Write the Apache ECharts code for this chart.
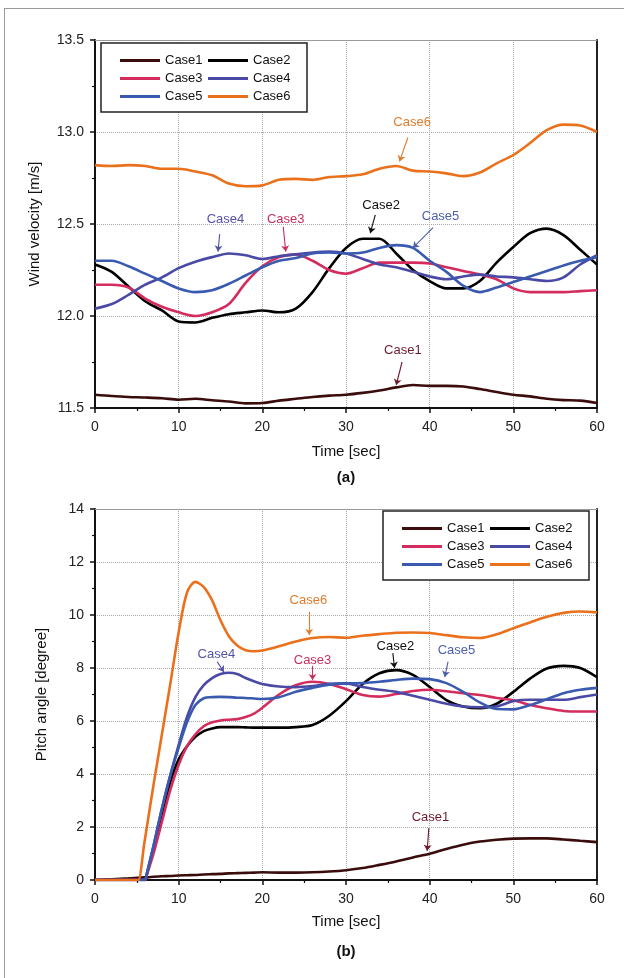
<!DOCTYPE html>
<html>
<head>
<meta charset="utf-8">
<script src="https://cdn.jsdelivr.net/npm/echarts/dist/echarts.min.js"></script>
<style>
  html, body { margin: 0; padding: 0; background: #ffffff; }
  #chart { width: 624px; height: 978px; }
</style>
</head>
<body>
<div id="chart"></div>
<script>
// ---- (a) wind velocity [m/s] ----
const windTime = [0, 2, 4, 6, 8, 10, 12, 14, 16, 18, 20, 22, 24, 26, 28, 30,
                  32, 34, 36, 38, 40, 42, 44, 46, 48, 50, 52, 54, 56, 58, 60];
const windCase1 = [11.572, 11.565, 11.560, 11.557, 11.553, 11.545, 11.550, 11.542, 11.535, 11.525, 11.527,
                   11.540, 11.550, 11.560, 11.567, 11.572, 11.582, 11.595, 11.612, 11.625, 11.620,
                   11.620, 11.617, 11.603, 11.587, 11.572, 11.563, 11.550, 11.543, 11.540, 11.527];
const windCase2 = [12.28, 12.24, 12.16, 12.08, 12.03, 11.97, 11.965, 11.99, 12.01, 12.02, 12.03,
                   12.02, 12.04, 12.13, 12.26, 12.37, 12.42, 12.42, 12.34, 12.25, 12.19,
                   12.15, 12.15, 12.19, 12.29, 12.375, 12.45, 12.475, 12.44, 12.36, 12.28];
const windCase3 = [12.17, 12.17, 12.155, 12.095, 12.05, 12.02, 12.00, 12.02, 12.065, 12.18, 12.27,
                   12.32, 12.335, 12.30, 12.25, 12.23, 12.26, 12.29, 12.29, 12.29, 12.285,
                   12.265, 12.245, 12.225, 12.20, 12.15, 12.13, 12.13, 12.13, 12.135, 12.14];
const windCase4 = [12.04, 12.065, 12.115, 12.17, 12.21, 12.26, 12.295, 12.32, 12.34, 12.33, 12.31,
                   12.325, 12.335, 12.345, 12.35, 12.34, 12.31, 12.28, 12.265, 12.24, 12.215,
                   12.20, 12.215, 12.225, 12.215, 12.21, 12.20, 12.19, 12.21, 12.28, 12.33];
const windCase5 = [12.30, 12.30, 12.27, 12.23, 12.19, 12.15, 12.13, 12.14, 12.175, 12.22, 12.265,
                   12.30, 12.315, 12.34, 12.345, 12.34, 12.345, 12.37, 12.385, 12.37, 12.30,
                   12.24, 12.165, 12.13, 12.155, 12.185, 12.215, 12.245, 12.275, 12.30, 12.32];
const windCase6 = [12.82, 12.815, 12.82, 12.815, 12.80, 12.80, 12.785, 12.765, 12.72, 12.705, 12.71,
                   12.74, 12.745, 12.74, 12.755, 12.76, 12.77, 12.80, 12.815, 12.79, 12.785,
                   12.775, 12.76, 12.78, 12.83, 12.875, 12.94, 13.01, 13.04, 13.035, 13.00];

// ---- (b) pitch angle [degree] ----
const pitchTime = [0, 2, 4, 5, 5.1, 5.2, 5.9, 6, 6.2, 7, 8, 9, 10, 11, 12, 13, 14, 15, 16, 17, 18, 19, 20,
                   22, 24, 26, 28, 30, 32, 34, 36, 38, 40, 42, 44, 46, 48, 50, 52, 54, 56, 58, 60];
const pitchCase1 = [0, 0.03, 0.06, 0.08, 0.08, 0.08, 0.10, 0.10, 0.10, 0.12, 0.14, 0.15, 0.17, 0.18, 0.19,
                    0.21, 0.22, 0.23, 0.25, 0.26, 0.27, 0.28, 0.29, 0.28, 0.28, 0.29, 0.32, 0.37, 0.45,
                    0.57, 0.70, 0.85, 0.99, 1.17, 1.33, 1.45, 1.52, 1.56, 1.57, 1.57, 1.53, 1.48, 1.43];
const pitchCase2 = [0, 0, 0, 0, 0, 0, 0, 0, 0.2, 1.2, 2.5, 3.7, 4.55, 5.05, 5.4, 5.62, 5.72, 5.77, 5.77,
                    5.77, 5.76, 5.75, 5.75, 5.75, 5.77, 5.85, 6.2, 6.75, 7.4, 7.8, 7.92, 7.74, 7.28,
                    6.79, 6.55, 6.48, 6.65, 7.1, 7.6, 7.98, 8.08, 8.0, 7.65];
const pitchCase3 = [0, 0, 0, 0, 0, 0, 0, 0, 0.2, 1.0, 2.2, 3.4, 4.35, 5.05, 5.5, 5.8, 5.95, 6.02, 6.05,
                    6.07, 6.15, 6.28, 6.5, 7.0, 7.35, 7.48, 7.4, 7.2, 6.98, 6.92, 7.02, 7.13, 7.18,
                    7.12, 7.05, 6.98, 6.87, 6.78, 6.6, 6.48, 6.38, 6.36, 6.36];
const pitchCase4 = [0, 0, 0, 0, 0, 0, 0, 0, 0.25, 1.3, 2.7, 3.95, 5.1, 6.15, 6.9, 7.35, 7.62, 7.77, 7.82,
                    7.77, 7.62, 7.5, 7.4, 7.3, 7.28, 7.32, 7.4, 7.42, 7.28, 7.18, 7.1, 6.95, 6.8,
                    6.65, 6.55, 6.52, 6.55, 6.75, 6.8, 6.8, 6.8, 6.9, 7.0];
const pitchCase5 = [0, 0, 0, 0, 0, 0, 0, 0, 0.25, 1.3, 2.7, 3.95, 5.0, 5.95, 6.6, 6.86, 6.9, 6.91, 6.9,
                    6.88, 6.87, 6.85, 6.83, 6.9, 7.1, 7.25, 7.37, 7.42, 7.43, 7.48, 7.55, 7.6, 7.58,
                    7.43, 7.1, 6.7, 6.45, 6.44, 6.6, 6.82, 7.05, 7.18, 7.25];
const pitchCase6 = [0, 0, 0, 0, 0, 0, 1.4, 1.6, 2.0, 3.6, 5.5, 7.4, 9.35, 10.85, 11.25, 11.05, 10.55, 9.8,
                    9.2, 8.85, 8.67, 8.63, 8.66, 8.82, 9.0, 9.13, 9.17, 9.14, 9.22, 9.28, 9.33, 9.34,
                    9.32, 9.24, 9.16, 9.13, 9.27, 9.5, 9.72, 9.93, 10.08, 10.13, 10.1];

const caseNames = ['Case1', 'Case2', 'Case3', 'Case4', 'Case5', 'Case6'];
const lineColors = ['#3a0c0c', '#000000', '#d42c5c', '#4a4aa6', '#3a5ab0', '#ea701c'];
const noteColors = ['#6e1a2c', '#111111', '#c8305e', '#5252a8', '#4c5eac', '#e07c2c'];

// Callout labels: text position, arrow tail, arrow head (data coordinates)
const windNotes = [
  { name: 'Case6', text: [37.9, 13.05], from: [37.4, 12.97], to: [36.4, 12.84] },
  { name: 'Case2', text: [34.2, 12.60], from: [33.5, 12.55], to: [32.9, 12.45] },
  { name: 'Case5', text: [41.3, 12.54], from: [40.4, 12.48], to: [38.0, 12.37] },
  { name: 'Case4', text: [15.6, 12.525], from: [14.9, 12.445], to: [14.7, 12.35] },
  { name: 'Case3', text: [22.8, 12.525], from: [22.5, 12.485], to: [22.8, 12.35] },
  { name: 'Case1', text: [36.8, 11.815], from: [36.7, 11.75], to: [36.0, 11.625] }
];
const pitchNotes = [
  { name: 'Case6', text: [25.5, 10.54], from: [25.6, 10.12], to: [25.6, 9.25] },
  { name: 'Case4', text: [14.5, 8.53], from: [14.6, 8.24], to: [15.4, 7.85] },
  { name: 'Case3', text: [26.0, 8.30], from: [26.0, 8.08], to: [26.0, 7.55] },
  { name: 'Case2', text: [35.9, 8.80], from: [35.6, 8.56], to: [35.8, 8.0] },
  { name: 'Case5', text: [43.2, 8.68], from: [42.2, 8.24], to: [41.8, 7.66] },
  { name: 'Case1', text: [40.1, 2.38], from: [39.9, 1.96], to: [39.7, 1.1] }
];

const windSeries = [windCase1, windCase2, windCase3, windCase4, windCase5, windCase6];
const pitchSeries = [pitchCase1, pitchCase2, pitchCase3, pitchCase4, pitchCase5, pitchCase6];

const FONT = 'Liberation Sans, Arial, sans-serif';

function buildSeries(times, values, notes, xIdx, yIdx) {
  return caseNames.map((name, k) => {
    const note = notes.find(n => n.name === name);
    const c = noteColors[k];
    return {
      name: name,
      type: 'line',
      xAxisIndex: xIdx,
      yAxisIndex: yIdx,
      data: times.map((t, i) => [t, values[k][i]]),
      showSymbol: false,
      smooth: 0.3,
      lineStyle: { color: lineColors[k], width: 2.6 },
      itemStyle: { color: lineColors[k] },
      z: 2 + k,
      silent: true,
      markPoint: note ? {
        silent: true,
        symbol: 'rect',
        symbolSize: 1,
        itemStyle: { color: 'rgba(0,0,0,0)' },
        label: {
          show: true, position: 'inside', formatter: name,
          color: c, fontFamily: FONT, fontSize: 13
        },
        data: [{ coord: note.text }]
      } : undefined,
      markLine: note ? {
        silent: true,
        symbol: ['none', 'arrow'],
        symbolSize: 6,
        lineStyle: { color: c, width: 1.1, type: 'solid' },
        label: { show: false },
        data: [[{ coord: note.from }, { coord: note.to }]]
      } : undefined
    };
  });
}

function valueXAxis(gridIndex) {
  return {
    type: 'value', gridIndex: gridIndex, min: 0, max: 60, interval: 10,
    name: 'Time [sec]', nameLocation: 'middle', nameGap: gridIndex === 0 ? 36 : 34,
    nameTextStyle: { fontFamily: FONT, fontSize: 15, color: '#111' },
    axisLine: { show: true, onZero: false, lineStyle: { color: '#111', width: 2 } },
    axisTick: { show: true, inside: false, length: 5, lineStyle: { color: '#111', width: 1.5 } },
    minorTick: { show: true, splitNumber: 2, length: 3, lineStyle: { color: '#111', width: 1.2 } },
    axisLabel: { margin: 12, fontFamily: FONT, fontSize: 14, color: '#222' },
    splitLine: { show: true, lineStyle: { color: '#a8a8a8', width: 1, type: 'dotted' } }
  };
}
function borderXAxis(gridIndex) {
  return {
    type: 'value', gridIndex: gridIndex, position: 'top', min: 0, max: 60,
    axisLine: { show: true, onZero: false, lineStyle: { color: '#9a9a9a', width: 1 } },
    axisTick: { show: false }, axisLabel: { show: false }, splitLine: { show: false }
  };
}
function borderYAxis(gridIndex, min, max) {
  return {
    type: 'value', gridIndex: gridIndex, position: 'right', min: min, max: max,
    axisLine: { show: true, onZero: false, lineStyle: { color: '#222', width: 2 } },
    axisTick: { show: false }, axisLabel: { show: false }, splitLine: { show: false }
  };
}

function legendFor(left, top) {
  return {
    left: left, top: top, width: 182,
    orient: 'horizontal',
    data: caseNames,
    icon: 'rect', itemWidth: 40, itemHeight: 3, itemGap: 3,
    padding: [10, 14, 8, 19],
    borderColor: '#222', borderWidth: 1.5,
    backgroundColor: '#ffffff',
    selectedMode: false,
    textStyle: { fontFamily: FONT, fontSize: 13, color: '#111', width: 40, lineHeight: 15 }
  };
}

const chart = echarts.init(document.getElementById('chart'), null, { renderer: 'canvas' });

chart.setOption({
  animation: false,
  backgroundColor: '#ffffff',
  grid: [
    { left: 95, width: 502, top: 40, height: 368 },
    { left: 95, width: 502, top: 509, height: 371 }
  ],
  xAxis: [valueXAxis(0), borderXAxis(0), valueXAxis(1), borderXAxis(1)],
  yAxis: [
    {
      type: 'value', gridIndex: 0, min: 11.5, max: 13.5, interval: 0.5,
      name: 'Wind velocity [m/s]', nameLocation: 'middle', nameGap: 53,
      nameTextStyle: { fontFamily: FONT, fontSize: 15, color: '#111' },
      axisLine: { show: true, onZero: false, lineStyle: { color: '#111', width: 2 } },
      axisTick: { show: true, inside: false, length: 5, lineStyle: { color: '#111', width: 1.5 } },
      minorTick: { show: true, splitNumber: 2, length: 3, lineStyle: { color: '#111', width: 1.2 } },
      axisLabel: { margin: 11, fontFamily: FONT, fontSize: 14, color: '#222',
                   formatter: v => v.toFixed(1) },
      splitLine: { show: true, lineStyle: { color: '#a8a8a8', width: 1, type: 'dotted' } }
    },
    borderYAxis(0, 11.5, 13.5),
    {
      type: 'value', gridIndex: 1, min: 0, max: 14, interval: 2,
      name: 'Pitch angle [degree]', nameLocation: 'middle', nameGap: 46,
      nameTextStyle: { fontFamily: FONT, fontSize: 15, color: '#111' },
      axisLine: { show: true, onZero: false, lineStyle: { color: '#111', width: 2 } },
      axisTick: { show: true, inside: false, length: 5, lineStyle: { color: '#111', width: 1.5 } },
      minorTick: { show: true, splitNumber: 2, length: 3, lineStyle: { color: '#111', width: 1.2 } },
      axisLabel: { margin: 11, fontFamily: FONT, fontSize: 14, color: '#222' },
      splitLine: { show: true, lineStyle: { color: '#a8a8a8', width: 1, type: 'dotted' } }
    },
    borderYAxis(1, 0, 14)
  ],
  legend: [legendFor(101, 43), legendFor(383, 511)],
  graphic: [
    { type: 'line', shape: { x1: 4.5, y1: 8, x2: 4.5, y2: 978 }, style: { stroke: '#9a9a9a', lineWidth: 1 } },
    { type: 'line', shape: { x1: 4, y1: 8.5, x2: 624, y2: 8.5 }, style: { stroke: '#9a9a9a', lineWidth: 1 } },
    { type: 'text', x: 346, y: 478, style: { text: '(a)', fontFamily: FONT, fontSize: 15, fontWeight: 'bold',
      fill: '#111', textAlign: 'center', textVerticalAlign: 'middle' } },
    { type: 'text', x: 346, y: 952, style: { text: '(b)', fontFamily: FONT, fontSize: 15, fontWeight: 'bold',
      fill: '#111', textAlign: 'center', textVerticalAlign: 'middle' } }
  ],
  series: [
    ...buildSeries(windTime, windSeries, windNotes, 0, 0),
    ...buildSeries(pitchTime, pitchSeries, pitchNotes, 2, 2)
  ]
});
</script>
</body>
</html>
